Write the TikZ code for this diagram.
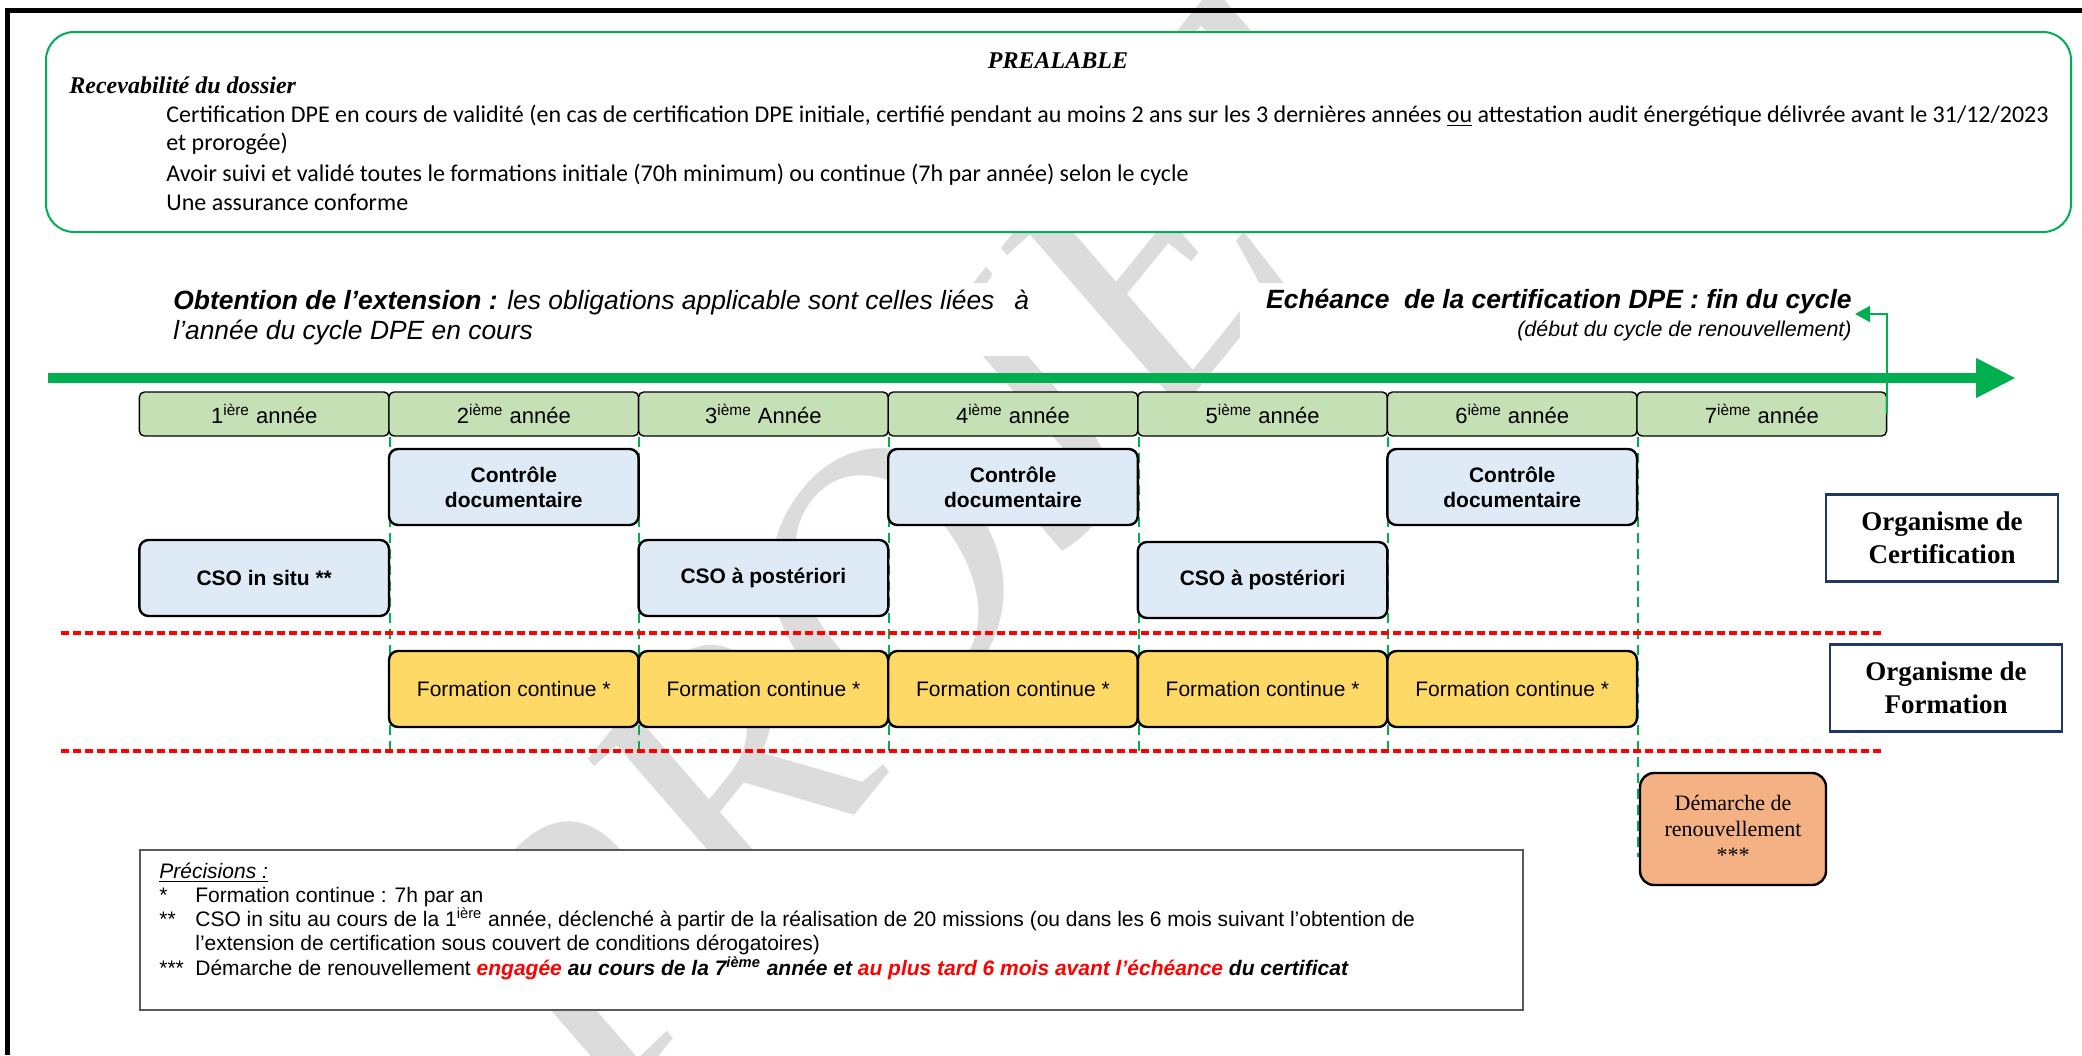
\documentclass[tikz,border=0pt]{standalone}
\usepackage{fontspec}
\setmainfont{Liberation Serif}
\setsansfont{Liberation Sans}
\newfontfamily\calibri{Carlito}
\usepackage{xcolor}
\usetikzlibrary{shapes.geometric, arrows.meta, positioning, calc}
\definecolor{dpegreen}{RGB}{0, 176, 80}
\definecolor{yeargreen}{RGB}{197, 224, 180}
\definecolor{ctrlblue}{RGB}{222, 235, 247}
\definecolor{formyellow}{RGB}{255, 217, 102}
\definecolor{renorange}{RGB}{244, 177, 131}
\definecolor{orgnavy}{RGB}{31, 56, 100}
\definecolor{watergray}{RGB}{220, 220, 220}
\tikzstyle{prebox} = [rectangle, rounded corners=14pt, minimum width=1012.5pt, minimum height=100pt, draw=dpegreen, fill=white, line width=1pt]
\tikzstyle{yearbox} = [rectangle, rounded corners=2.5pt, minimum width=124.8pt, minimum height=22pt, inner sep=0pt, text centered, draw=black, line width=0.7pt, fill=yeargreen, font=\sffamily\fontsize{11}{13}\selectfont]
\tikzstyle{ctrlbox} = [rectangle, rounded corners=4.5pt, minimum width=124.8pt, minimum height=38pt, inner sep=0pt, align=center, draw=black, line width=1.2pt, fill=ctrlblue, font=\sffamily\bfseries\fontsize{10.5}{12.5}\selectfont]
\tikzstyle{formbox} = [ctrlbox, fill=formyellow, font=\sffamily\fontsize{10.5}{12.5}\selectfont]
\tikzstyle{renbox} = [rectangle, rounded corners=7pt, minimum width=93pt, minimum height=56pt, align=center, draw=black, line width=1.2pt, fill=renorange, font=\fontsize{11}{13}\selectfont]
\tikzstyle{orgbox} = [rectangle, minimum width=116pt, minimum height=43.5pt, align=center, draw=orgnavy, fill=white, line width=1.3pt, font=\bfseries\fontsize{13.5}{16.5}\selectfont]
\tikzstyle{notebox} = [rectangle, minimum width=691.5pt, minimum height=80pt, draw=black!65, fill=white, line width=0.8pt]
\tikzstyle{bodytxt} = [anchor=west, inner sep=0pt, text height=1.6ex, text depth=0.4ex, font=\calibri\fontsize{12}{14}\selectfont]
\tikzstyle{headtxt} = [bodytxt, font=\sffamily\itshape\fontsize{13.2}{15}\selectfont]
\tikzstyle{notetxt} = [bodytxt, font=\sffamily\fontsize{10.5}{12}\selectfont]
\tikzstyle{cutline} = [red, line width=2pt, dash pattern=on 4pt off 2pt]
\tikzstyle{yearline} = [dpegreen, line width=1pt, dash pattern=on 5pt off 3pt]
\tikzstyle{timeline} = [dpegreen, line width=5pt, -{Triangle[length=20pt, width=18.5pt]}]
\tikzstyle{arrow} = [dpegreen, line width=1pt, -{Triangle[length=7.5pt, width=8pt]}]

\begin{document}
\begin{tikzpicture}[x=0.5pt, y=-0.5pt, node distance=124.8pt]
\useasboundingbox (0,0) rectangle (2082,1055);

% Watermark and page frame
\begin{scope}
\clip (0,0) rectangle (2082,1055);
\node (watermark) [rotate=51, text=watergray, font=\itshape\fontsize{185}{185}\selectfont] at (930,530) {PROJET};
\end{scope}
\fill [white] (165,283) rectangle (1045,356);
\fill [white] (1240,283) rectangle (1862,348);
\draw [line width=2.5pt] (7,1055) -- (7,10) -- (2082,10);

% Prerequisites
\node (prealable) [prebox] at (1058.5,132) {};
\node (pretitle) [font=\bfseries\itshape\fontsize{12}{14}\selectfont] at (1058,61) {PREALABLE};
\node (recev) [bodytxt, font=\bfseries\itshape\fontsize{12}{14}\selectfont] at (69,88) {Recevabilité du dossier};
\node (cond1) [bodytxt] at (166,117) {Certification DPE en cours de validité (en cas de certification DPE initiale, certifié pendant au moins 2 ans sur les 3 dernières années \underline{ou} attestation audit énergétique délivrée avant le 31/12/2023};
\node (cond1b) [bodytxt] at (166,145) {et prorogée)};
\node (cond2) [bodytxt] at (166,176) {Avoir suivi et validé toutes le formations initiale (70h minimum) ou continue (7h par année) selon le cycle};
\node (cond3) [bodytxt] at (166,205) {Une assurance conforme};

% Cycle headings
\node (obt1) [headtxt] at (173,304) {\textbf{Obtention de l’extension :} les obligations applicable sont celles liées\hspace{10pt}à};
\node (obt2) [headtxt] at (173,334) {l’année du cycle DPE en cours};
\node (ech) [headtxt, anchor=east] at (1852,303) {\bfseries Echéance\ \ de la certification DPE : fin du cycle};
\node (debut) [headtxt, anchor=east, font=\sffamily\itshape\fontsize{10.7}{12}\selectfont] at (1852,331) {(début du cycle de renouvellement)};

% Timeline
\coordinate (tstart) at (48,378);
\coordinate (tend) at (2016,378);
\coordinate (echtip) at (1855,314);
\draw [timeline] (tstart) -- (tend);

% Years
\node (y1) [yearbox] at (264.2,414) {1\textsuperscript{ière} année};
\node (y2) [yearbox, right of=y1] {2\textsuperscript{ième} année};
\node (y3) [yearbox, right of=y2] {3\textsuperscript{ième} Année};
\node (y4) [yearbox, right of=y3] {4\textsuperscript{ième} année};
\node (y5) [yearbox, right of=y4] {5\textsuperscript{ième} année};
\node (y6) [yearbox, right of=y5] {6\textsuperscript{ième} année};
\node (y7) [yearbox, right of=y6] {7\textsuperscript{ième} année};
\draw [arrow] (y7.east) |- (echtip);

% Year limits
\foreach \n in {1,...,5}
  \draw [yearline] (y\n.south east) -- ++(0,316);
\draw [yearline] (y6.south east) -- ++(0,420);
\draw [cutline] (61,633) -- (1883,633);
\draw [cutline] (61,751) -- (1883,751);

% Certification body
\node (c2) [ctrlbox, below of=y2, node distance=36.5pt] {Contrôle\\documentaire};
\node (c4) [ctrlbox, below of=y4, node distance=36.5pt] {Contrôle\\documentaire};
\node (c6) [ctrlbox, below of=y6, node distance=36.5pt] {Contrôle\\documentaire};
\node (s1) [ctrlbox, below of=y1, node distance=82pt] {CSO in situ **};
\node (s3) [ctrlbox, below of=y3, node distance=82pt] {CSO à postériori};
\node (s5) [ctrlbox, below of=y5, node distance=83pt] {CSO à postériori};
\node (orgcert) [orgbox] at (1942,538) {Organisme de\\Certification};

% Training body
\foreach \n in {2,...,6}
  \node (f\n) [formbox, below of=y\n, node distance=137.5pt] {Formation continue *};
\node (orgform) [orgbox] at (1946,688) {Organisme de\\Formation};

% Renewal
\node (ren) [renbox] at (1733,829) {Démarche de\\renouvellement\\***};

% Notes
\node (notes) [notebox, anchor=north west] at (139,849) {};
\node (ntitle) [notetxt] at (159,873) {\itshape\underline{Précisions :}};
\node (n1s) [notetxt] at (159,897) {*};
\node (n1) [notetxt] at (195,897) {Formation continue : 7h par an};
\node (n2s) [notetxt] at (159,921) {**};
\node (n2) [notetxt] at (195,921) {CSO in situ au cours de la 1\textsuperscript{ière} année, déclenché à partir de la réalisation de 20 missions (ou dans les 6 mois suivant l’obtention de};
\node (n2b) [notetxt] at (195,945) {l’extension de certification sous couvert de conditions dérogatoires)};
\node (n3s) [notetxt] at (159,970) {***};
\node (n3) [notetxt] at (195,970) {Démarche de renouvellement \textcolor{red}{\bfseries\itshape engagée} {\bfseries\itshape au cours de la 7\textsuperscript{ième} année et \textcolor{red}{au plus tard 6 mois avant l’échéance} du certificat}};

\end{tikzpicture}
\end{document}
